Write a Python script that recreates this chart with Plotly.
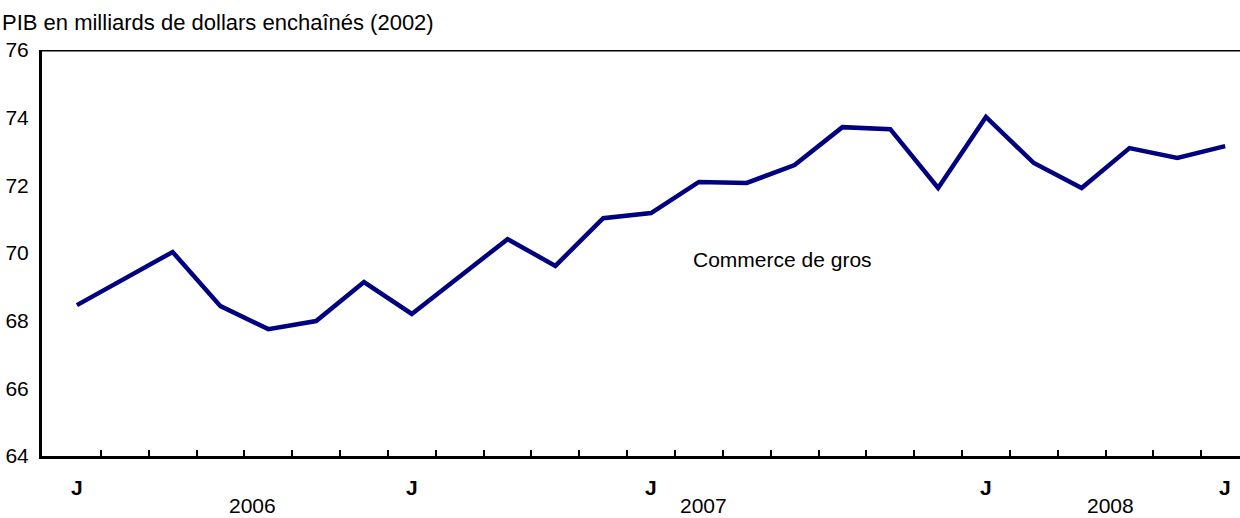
import plotly.graph_objects as go

# Data: monthly GDP, wholesale trade, June 2006 .. June 2008
months = list(range(25))
values = [68.46, 69.23, 70.03, 68.43, 67.75, 67.99, 69.14, 68.20, 69.30, 70.41,
          69.62, 71.03, 71.18, 72.10, 72.07, 72.60, 73.72, 73.66, 71.92, 74.02,
          72.66, 71.92, 73.10, 72.81, 73.16]
month_label_pos = [0, 7, 12, 19, 24]
month_labels = ["J", "J", "J", "J", "J"]
year_label_pos = [3.68, 13.1, 21.6]
year_labels = ["2006", "2007", "2008"]
y_ticks = [64, 66, 68, 70, 72, 74, 76]
series_name = "Commerce de gros"
title_text = "PIB en milliards de dollars enchaînés (2002)"

FONT = "Liberation Sans, Arial, Helvetica, sans-serif"
FS = 21

fig = go.Figure()
fig.add_trace(go.Scatter(x=months, y=values, mode="lines",
                         line=dict(color="#000080", width=4.5), name=series_name,
                         showlegend=False, hoverinfo="skip"))

fig.update_layout(
    width=1240, height=518,
    margin=dict(l=42, r=0, t=50, b=62),
    plot_bgcolor="white", paper_bgcolor="white",
    font=dict(family=FONT, size=FS, color="black"),
    xaxis=dict(range=[-0.73, 24.31], showgrid=False, zeroline=False,
               showline=True, linecolor="black", linewidth=3,
               tickvals=[m + 0.5 for m in months[:-1]], ticktext=[""] * 24,
               ticks="inside", ticklen=6, tickwidth=2, tickcolor="black"),
    yaxis=dict(range=[64, 76], tickvals=y_ticks, showgrid=False, zeroline=False,
               showline=True, linecolor="black", linewidth=3,
               ticks="", ticklabelstandoff=6,
               tickfont=dict(family=FONT, size=FS)),
)

# top border line
fig.add_shape(type="line", xref="paper", yref="y", x0=0, x1=1, y0=76, y1=76,
              line=dict(color="black", width=3), layer="above")

annos = []
for p, t in zip(month_label_pos, month_labels):
    annos.append(dict(x=p, xref="x", y=0, yref="paper", yshift=-31,
                      text="<b>" + t + "</b>", showarrow=False,
                      xanchor="center", yanchor="middle",
                      font=dict(family=FONT, size=FS)))
for p, t in zip(year_label_pos, year_labels):
    annos.append(dict(x=p, xref="x", y=0, yref="paper", yshift=-49,
                      text=t, showarrow=False, xanchor="center", yanchor="middle",
                      borderpad=0, font=dict(family=FONT, size=FS)))
annos.append(dict(x=0, xref="paper", xshift=-42, y=1, yref="paper", yshift=28,
                  text=title_text, showarrow=False, xanchor="left", yanchor="middle",
                  font=dict(family=FONT, size=22)))
annos.append(dict(x=14.75, xref="x", y=69.8, yref="y", text=series_name,
                  showarrow=False, xanchor="center", yanchor="middle",
                  font=dict(family=FONT, size=FS)))
fig.update_layout(annotations=annos)

fig.write_html("out.html", config={"displayModeBar": False},
               post_script="document.body.style.margin='0';document.body.style.overflow='hidden';")
